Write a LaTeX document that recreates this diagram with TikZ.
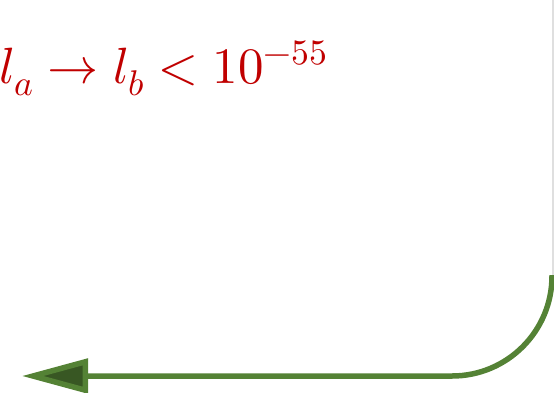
\documentclass[tikz,border=0pt]{standalone}
\usepackage{unicode-math}
\setmathfont{Latin Modern Math}
\usetikzlibrary{arrows.meta,positioning}
\definecolor{linkgreen}{RGB}{84,130,53}
\definecolor{tipgreen}{RGB}{56,87,35}
\definecolor{boundred}{RGB}{192,0,0}
\tikzset{
  boundtext/.style={text=boundred, inner sep=0pt, anchor=base west, font=\fontsize{51}{60}\selectfont},
  greenarrow/.style={draw=linkgreen, line width=5.5pt, rounded corners=100pt, -{Triangle[length=66pt,width=34pt,fill=tipgreen]}}
}

\begin{document}
\begin{tikzpicture}[x=1pt,y=-1pt]
  \useasboundingbox (0,0) rectangle (554,392);
  \clip (0,0) rectangle (554,392);
  \node [boundtext] (bound) at (-1,83) {$l_a \to l_b < 10^{-55}$};
  \coordinate (edgetop) at (553,0);
  \coordinate (bend) at (552,275);
  \coordinate (corner) at (552,376);
  \coordinate (tip) at (22,376);
  \draw [gray!25, line width=1.2pt] (edgetop) -- (edgetop |- bend);
  \draw [greenarrow] (bend) -- (corner) -- (tip);
\end{tikzpicture}
\end{document}
